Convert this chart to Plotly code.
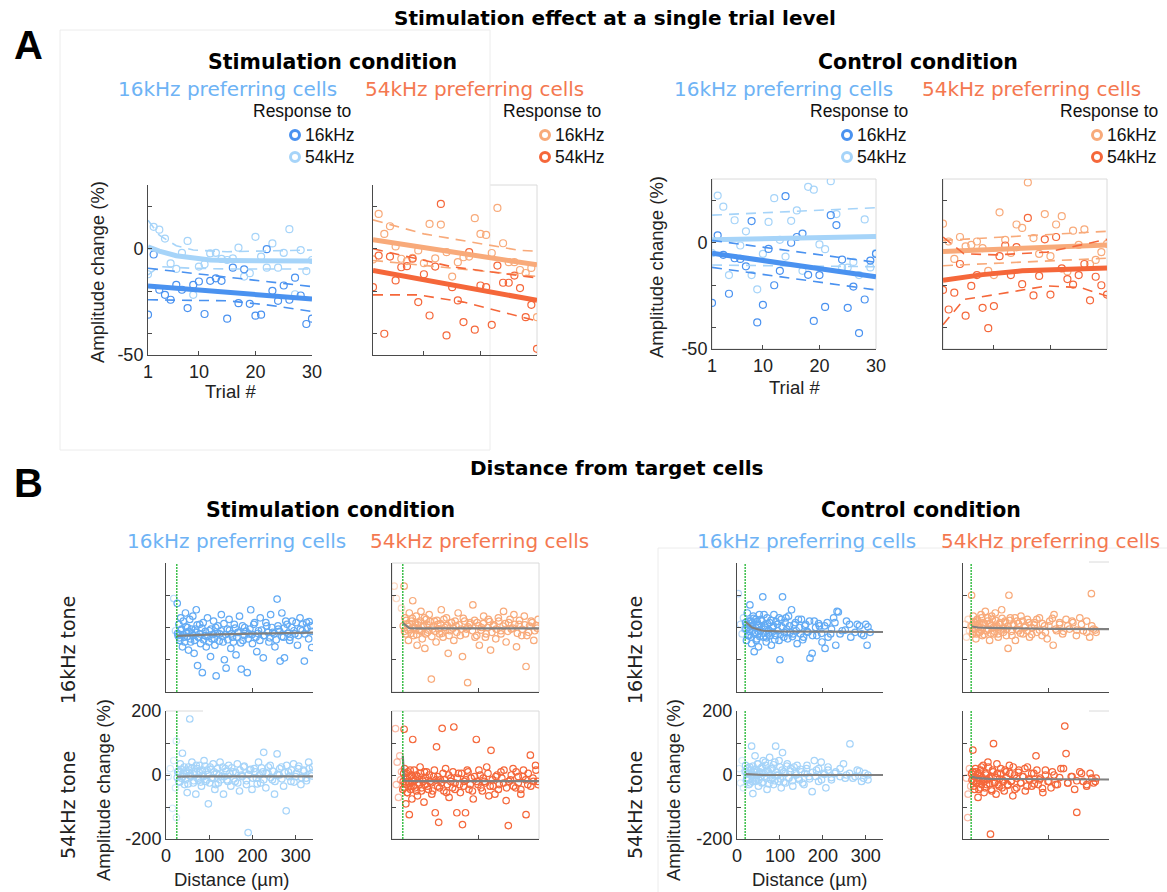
import plotly.graph_objects as go

W, H = 1167, 892
FONT_H = "Liberation Sans, Arial, sans-serif"
FONT_V = "DejaVu Sans, Verdana, sans-serif"

# ======================= Panel A data (amplitude change, %) =======================
trial = [1, 2, 3, 4, 5, 6, 7, 8, 9, 10, 11, 12, 13, 14, 15,
         16, 17, 18, 19, 20, 21, 22, 23, 24, 25, 26, 27, 28, 29, 30]

# Stimulation condition - 16kHz preferring cells
a_s16_r16 = [-31.0, -2.7, -19.3, -21.7, -24.0, -17.0, -19.3, -27.9, -17.0, -15.4,
             -30.7, -15.1, -13.9, -15.1, -32.9, -8.9, -25.6, -9.7, -25.9, -31.5,
             -31.0, -0.2, -19.8, -24.5, -17.3, -24.0, -13.6, -22.0, -35.4, -32.9]
a_s16_r54 = [-12.0, 10.3, 9.0, 4.8, -6.9, -9.5, -1.9, 3.7, -21.7, -8.4,
             -7.3, -2.2, -1.9, -4.8, -5.3, -4.5, 0.5, -13.1, -11.5, 5.6,
             -3.7, -8.9, 2.5, -8.9, -1.9, 9.2, -21.4, -0.6, -10.5, -5.3]
a_s16_r16_fit_t = [1, 30]
a_s16_r16_fit = [-17.5, -23.7]
a_s16_r16_hi_t = [1, 30]
a_s16_r16_hi = [-9.2, -17.8]
a_s16_r16_lo_t = [1, 15, 22, 30]
a_s16_r16_lo = [-24.0, -24.5, -26.4, -29.5]
a_s16_r54_fit_t = [1, 3, 6, 9, 12, 15, 21, 27, 30]
a_s16_r54_fit = [0.9, -1.1, -3.3, -4.5, -5.3, -5.5, -5.6, -5.8, -5.8]
a_s16_r54_hi_t = [1, 3, 6, 9, 15, 21, 30]
a_s16_r54_hi = [13.4, 6.4, 1.4, -0.6, -1.4, -1.1, -0.6]
a_s16_r54_lo_t = [1, 3, 9, 15, 30]
a_s16_r54_lo = [-12.3, -8.4, -9.2, -9.5, -9.5]

# Stimulation condition - 54kHz preferring cells
a_s54_r16 = [-5.0, 16.4, 7.0, 10.6, 1.1, -4.7, -5.8, -4.3, -0.8, -6.8,
             11.7, -4.5, 11.4, -1.6, -13.1, -6.3, -4.0, -3.7, 14.4, 7.0,
             6.5, -2.0, 19.2, 2.6, -6.3, -6.3, -10.0, -11.4, -9.0, -32.2]
a_s54_r54 = [-18.1, -3.2, -40.0, -3.7, -14.9, -8.7, -8.2, -4.7, -25.1, -12.0,
             -31.4, -8.4, 21.1, -40.8, -18.1, -24.3, -34.5, -1.6, -38.1, -17.3,
             -18.1, -35.8, -7.9, -16.0, -16.0, -12.6, -18.5, -32.2, -26.4, -47.1]
a_s54_r16_fit_t = [1, 30]
a_s54_r16_fit = [4.2, -7.6]
a_s54_r16_hi_t = [1, 10, 27, 30]
a_s54_r16_hi = [13.6, 7.0, -0.8, -1.1]
a_s54_r16_lo_t = [1, 30]
a_s54_r16_lo = [-5.5, -13.0]
a_s54_r54_fit_t = [1, 30]
a_s54_r54_fit = [-10.2, -24.3]
a_s54_r54_hi_t = [1, 15, 30]
a_s54_r54_hi = [0.0, -8.5, -13.7]
a_s54_r54_lo_t = [1, 9, 17, 27, 30]
a_s54_r54_lo = [-21.7, -21.7, -25.1, -32.2, -34.0]

# Control condition - 16kHz preferring cells
a_c16_r16 = [-28.3, 3.5, -5.7, -24.0, -7.3, -7.6, -11.1, 10.2, -37.5, -29.2,
             -2.9, -20.0, -13.2, 21.9, 0.0, 2.7, 4.3, -15.1, -36.8, -15.2,
             -30.2, 13.0, 8.3, -7.9, -30.6, -20.6, -42.5, -26.7, -8.4, -5.2]
a_c16_r54 = [-4.9, 22.2, 17.0, -15.2, 10.6, -1.3, 5.4, -15.2, -21.9, -5.2,
             9.8, 21.0, 1.4, -6.5, 10.3, 15.2, -13.2, 26.3, 25.0, -0.8,
             -3.0, 29.0, 13.5, -11.7, -11.7, -9.0, -15.2, 11.0, -11.6, -4.9]
a_c16_r16_fit_t = [1, 30]
a_c16_r16_fit = [-4.9, -16.0]
a_c16_r16_hi = [1.1, -9.2]
a_c16_r16_lo = [-11.6, -22.2]
a_c16_r54_fit_t = [1, 30]
a_c16_r54_fit = [1.4, 3.0]
a_c16_r54_hi = [13.0, 16.5]
a_c16_r54_lo = [-10.5, -11.3]

# Control condition - 54kHz preferring cells
a_c54_r16 = [9.0, 0.6, -7.6, 2.7, -1.7, -1.0, 0.6, -2.5, -13.2, -15.2,
             14.3, 1.4, -4.8, 8.6, 7.0, 28.4, 2.2, -5.2, 13.5, -6.3,
             8.6, 12.5, -13.5, 5.7, -1.0, 6.3, -10.0, -8.1, -4.4, -0.5]
a_c54_r54 = [-22.2, -31.4, -23.5, -10.0, -34.3, -20.3, -15.2, -30.6, -40.2, -29.8,
             -6.3, -1.3, -15.2, -2.1, -19.5, 11.7, -24.8, -15.6, 1.6, -24.4,
             2.7, -12.1, -17.1, -19.7, -15.2, -10.0, -27.1, -16.0, -20.0, -24.4]
a_c54_r16_fit_t = [1, 30]
a_c54_r16_fit = [-4.1, -1.0]
a_c54_r16_hi = [1.1, 5.4]
a_c54_r16_lo = [-10.8, -7.3]
a_c54_r54_fit_t = [1, 8, 15, 22, 30]
a_c54_r54_fit = [-17.6, -15.0, -13.2, -12.4, -11.9]
a_c54_r54_hi_t = [1, 4.7, 10.5, 19.4, 30]
a_c54_r54_hi = [2.7, -5.2, -5.7, -4.4, 1.6]
a_c54_r54_lo_t = [1, 4.7, 10.5, 19.4, 25.3, 30]
a_c54_r54_lo = [-38.6, -26.7, -24.3, -20.3, -21.1, -25.1]

# ======================= Panel B data (distance um, amplitude change %) =======================
b_s16_t16 = [(18, 90), (22, -10), (26, 75), (28, -25), (30, 10), (32, -40), (34, 30), (36, -5), (38, -60),
             (40, 20), (42, -30), (45, 45), (47, -15), (50, 0), (52, -70), (55, 25), (57, -45), (60, -20),
             (62, 35), (65, -80), (68, -5), (70, 55), (73, -118), (75, -30), (78, 10), (80, -50), (84, -140),
             (86, 15), (90, -25), (93, -60), (96, 30), (100, -10), (103, -90), (106, -35), (110, 20),
             (113, -55), (116, -150), (120, 5), (124, -20), (128, 40), (132, -45), (135, -100), (139, -126),
             (142, -5), (146, 25), (150, -65), (154, -30), (158, 10), (162, -85), (166, -15), (170, 35),
             (174, -129), (178, -40), (182, 0), (188, -140), (192, -20), (196, 55), (200, -50), (205, 15),
             (210, -75), (214, -10), (218, 30), (225, -94), (228, -25), (233, 5), (238, -45), (242, 40),
             (247, -15), (252, -60), (257, 88), (260, -5), (264, -104), (268, 45), (272, -30), (274, -94),
             (280, 10), (286, -40), (292, 20), (298, -20), (304, -55), (310, 30), (315, -10), (320, -104),
             (325, 15), (330, -35), (335, 5), (337, -62)]
b_s16_t16_core = [(27, -18), (31, -32), (35, -8), (39, -22), (43, -45), (46, 2), (49, -28), (53, -12), (56, -35),
                  (59, -5), (63, -25), (66, -40), (69, -15), (72, 8), (76, -30), (79, -20), (83, -2), (87, -38),
                  (91, -12), (95, -28), (99, -45), (104, -5), (108, -22), (112, -35), (115, 0), (119, -18),
                  (123, -42), (127, -10), (131, -28), (134, 12), (138, -22), (143, -38), (147, -8), (151, -20),
                  (156, -45), (160, -2), (164, -30), (168, -15), (173, -48), (177, 5), (181, -25), (185, -12),
                  (190, -35), (194, -5), (199, -22), (203, 10), (208, -30), (212, -18), (217, -40), (221, -8),
                  (226, -25), (231, 15), (236, -15), (240, -32), (245, 0), (250, -20), (255, -38), (259, 5),
                  (263, -12), (268, -28), (273, -2), (277, 20), (282, -18), (287, -30), (291, 0), (296, -10),
                  (301, 15), (306, -25), (311, -5), (316, 10), (321, -20), (326, -2), (331, 18), (336, -12)]
b_s54_t16 = [(5, 128), (28, 128), (10, 90), (22, 60), (30, 30), (32, -20), (35, 10), (38, -40), (40, 45),
             (42, -5), (45, 20), (48, 83), (50, -25), (53, 0), (56, 35), (58, -55), (61, 15), (64, -10),
             (67, 50), (70, -35), (73, 5), (76, -65), (79, 25), (82, -15), (86, 40), (91, -160), (94, -5),
             (98, 20), (102, -45), (106, 10), (110, -20), (114, 55), (118, -30), (122, 0), (126, 30),
             (130, -80), (134, -10), (138, 15), (143, -40), (148, 5), (153, 45), (158, -25), (163, -90),
             (168, 20), (172, -5), (175, -171), (180, 10), (187, 70), (192, -30), (197, 15), (202, -55),
             (207, 0), (212, 35), (218, -20), (223, 25), (228, -70), (234, 5), (240, -35), (246, 30),
             (252, -10), (258, 50), (264, -45), (270, 15), (276, -5), (282, 40), (288, -60), (294, 10),
             (300, -25), (306, 35), (310, -121), (316, -15), (322, 20), (328, -40), (334, 5), (338, 25)]
b_s54_t16_core = [(26, 5), (29, -12), (33, 22), (37, -8), (41, 12), (44, -18), (47, 28), (51, -3), (54, 15),
                  (57, -22), (60, 8), (63, -6), (66, 20), (69, -12), (72, 2), (75, 30), (78, -20), (81, 10),
                  (84, -8), (88, 18), (92, -28), (96, 4), (100, -12), (104, 22), (108, -4), (112, 12),
                  (116, -18), (120, 25), (124, -8), (128, 6), (132, -25), (137, 15), (141, -2), (146, 20),
                  (150, -15), (155, 8), (160, -5), (165, 28), (170, -20), (176, 2), (181, 15), (186, -10),
                  (191, 22), (196, -25), (201, 5), (206, -8), (211, 12), (216, -30), (221, 0), (226, 18),
                  (231, -15), (236, 8), (241, -5), (247, 20), (252, -20), (257, 4), (262, 12), (268, -12),
                  (273, 25), (279, -2), (284, 10), (290, -18), (295, 22), (301, -6), (307, 8), (312, -25),
                  (318, 4), (324, 15), (330, -10), (336, -2)]
b_s16_t54 = [(5, -5), (10, 20), (15, -104), (18, 45), (22, -40), (24, 106), (24, -133), (27, 10), (30, -20),
             (33, 35), (36, -10), (38, 68), (40, 5), (43, -30), (46, 15), (49, -55), (52, 25), (55, 175),
             (57, -5), (60, 40), (63, -25), (66, 10), (69, -60), (72, 20), (75, -15), (78, 30), (82, -35),
             (85, 0), (88, 45), (92, -20), (95, 15), (98, -90), (102, 25), (105, -10), (109, 35), (113, -45),
             (117, 5), (121, -25), (125, 40), (129, -5), (133, -60), (137, 20), (141, -15), (145, 30),
             (150, -35), (155, 10), (160, -20), (165, 35), (170, -50), (175, 0), (180, 25), (186, -30),
             (190, -180), (194, 15), (199, -45), (204, 20), (209, -10), (214, 40), (219, -25), (224, 10),
             (226, 71), (231, -40), (236, 5), (241, 30), (246, -15), (251, -60), (257, 66), (262, 0),
             (267, 25), (272, -35), (278, -112), (283, 10), (289, -20), (295, 35), (300, -5), (306, 20),
             (312, -30), (318, 15), (324, -10), (330, 40), (336, 5), (339, 25)]
b_s16_t54_core = [(26, -8), (29, 12), (32, -22), (35, 18), (39, -5), (42, 25), (45, -15), (48, 5), (51, -28),
                  (54, 15), (57, -2), (60, 22), (64, -18), (67, 0), (70, 30), (74, -10), (77, 8), (80, -22),
                  (84, 15), (87, -5), (90, 28), (94, -15), (97, 2), (101, -25), (104, 18), (108, -8), (111, 10),
                  (115, -30), (119, 20), (123, 0), (127, -15), (131, 25), (135, -5), (139, 12), (143, -20),
                  (148, 5), (152, 22), (157, -12), (161, 8), (166, -25), (171, 15), (176, -5), (181, 28),
                  (186, -18), (191, 2), (196, 18), (201, -10), (206, 10), (211, -28), (216, 0), (221, 22),
                  (226, -15), (232, 5), (237, 25), (242, -8), (247, 12), (252, -20), (258, 2), (263, 20),
                  (268, -12), (274, 8), (279, 30), (285, -5), (290, 15), (296, -22), (301, 5), (307, 28),
                  (313, -8), (319, 12), (325, -18), (331, 20), (337, -3)]
b_s54_t54 = [(8, 145), (10, -30), (12, 40), (15, -70), (18, 60), (20, -15), (22, 10), (25, -45), (28, 143),
             (30, -25), (32, -90), (34, 5), (36, -55), (38, -20), (40, -124), (42, 15), (44, -35), (46, -75),
             (48, 111), (50, -10), (53, -40), (56, 0), (59, -65), (62, -25), (65, 25), (68, -50), (71, -15),
             (74, -85), (77, -30), (80, 10), (84, -45), (88, -20), (92, -60), (96, -5), (100, -118), (103, 88),
             (106, -35), (108, -148), (112, -15), (116, 146), (120, -50), (124, 20), (128, -30), (132, -70),
             (136, -10), (140, -40), (143, 150), (146, -25), (150, -118), (154, 5), (158, -55), (163, -155),
             (167, -20), (170, -118), (174, 15), (178, -45), (183, -10), (188, -75), (195, 111), (199, -30),
             (204, 0), (209, -50), (214, -20), (219, 25), (224, -65), (229, 77), (234, -35), (240, -5),
             (246, -45), (252, 10), (258, -25), (264, -80), (269, -158), (274, -15), (280, 20), (286, -40),
             (292, -5), (298, -60), (304, 15), (310, -124), (314, -30), (320, 62), (326, -10), (332, 30),
             (337, -20)]
b_s54_t54_core = [(26, -20), (27, 5), (28, -40), (29, 20), (31, -10), (33, -30), (35, -55), (37, 10), (39, -25),
                  (41, -5), (43, -45), (45, 0), (47, -20), (49, -35), (51, 15), (54, -15), (57, -50), (60, -5),
                  (63, -30), (66, 5), (69, -40), (72, -20), (75, 10), (78, -10), (82, -35), (86, 0), (90, -25),
                  (94, -50), (98, 15), (102, -15), (106, -5), (110, -40), (114, -25), (118, 5), (122, -15),
                  (126, -55), (131, 0), (136, -20), (141, 10), (146, -45), (151, -10), (156, -30), (161, 5),
                  (166, -35), (171, -15), (176, 10), (181, -30), (186, -50), (191, -5), (196, -20), (201, 15),
                  (206, -40), (211, -10), (216, -25), (222, 5), (227, -35), (232, -15), (238, -60), (243, 0),
                  (248, -30), (254, -10), (259, 15), (265, -40), (270, -20), (276, 0), (281, -35), (287, 10),
                  (292, -25), (298, -45), (303, -5), (309, -15), (315, 5), (321, -35), (327, -20), (333, 15),
                  (338, -30)]
b_c16_t16 = [(3, 105), (8, 10), (12, -20), (15, 30), (18, -5), (20, 15), (22, -40), (24, 45), (26, 0),
             (28, -25), (30, 70), (32, 20), (34, -50), (36, 5), (38, 35), (40, -75), (42, -15), (44, 25),
             (46, -35), (48, 10), (50, -60), (52, 40), (55, -10), (58, 20), (60, 95), (62, -30), (65, 5),
             (68, -45), (70, 30), (73, -20), (76, 15), (80, -55), (83, 0), (86, 40), (90, -25), (94, 10),
             (98, -40), (100, -100), (103, 25), (106, 95), (110, -15), (114, 30), (118, -35), (122, 5),
             (127, 55), (131, -20), (136, 15), (140, -50), (145, 0), (150, 25), (155, -30), (160, 10),
             (165, -15), (170, -95), (175, -80), (180, 20), (186, -25), (192, 5), (198, -45), (205, -65),
             (210, 15), (218, -20), (225, 30), (230, -55), (233, 50), (236, 48), (245, -10), (255, 20),
             (265, -30), (280, 10), (290, -20), (300, 10), (303, -55), (310, -15)]
b_c16_t16_core = [(21, -5), (23, 10), (25, -25), (27, 20), (29, -12), (31, 5), (33, -30), (35, 15), (37, -8),
                  (39, 28), (41, -20), (43, 0), (45, -40), (47, 18), (49, -12), (51, 5), (53, -28), (56, 25),
                  (58, -5), (61, -18), (63, 40), (66, 0), (69, -32), (71, 12), (74, -8), (77, -25), (79, 22),
                  (82, -15), (85, 5), (88, -38), (91, 18), (95, -10), (98, 30), (101, -22), (105, 2), (109, -30),
                  (112, 15), (116, -5), (120, 35), (124, -15), (129, -28), (133, 8), (138, -10), (143, 25),
                  (148, -20), (153, -38), (158, 5), (163, -12), (169, 20), (176, -25), (183, 0), (190, 12),
                  (197, -18), (204, 5), (212, -30), (220, -5), (228, 15), (240, -20), (252, -8), (262, 10),
                  (275, -15), (285, 5), (295, -25), (305, 2)]
b_c54_t16 = [(5, 10), (8, -30), (12, 25), (15, -10), (18, 5), (20, 100), (22, -20), (24, 35), (26, -5),
             (28, 15), (30, -35), (33, 20), (36, 0), (39, -15), (42, 40), (45, -25), (48, 10), (52, 50),
             (55, -10), (58, 30), (62, -40), (65, 5), (68, 25), (72, -20), (75, 45), (78, 0), (82, -30),
             (86, 15), (90, 55), (94, -15), (98, 20), (102, -5), (105, -65), (107, 100), (110, 30), (114, -25),
             (118, 10), (122, -40), (126, 20), (130, -10), (135, 35), (140, -20), (145, 5), (150, 25),
             (155, -30), (160, 0), (166, 15), (172, -15), (178, 30), (184, -25), (190, 5), (196, -35),
             (202, 20), (210, -55), (212, 40), (218, -10), (225, 10), (232, -20), (240, 25), (248, -5),
             (256, 15), (264, -25), (272, 30), (280, -10), (288, 20), (295, -30), (299, 105), (304, -5),
             (310, -15)]
b_c54_t16_core = [(21, 5), (23, -12), (25, 18), (27, -5), (29, 10), (31, -20), (33, 25), (35, 0), (37, -15),
                  (39, 12), (41, -8), (43, 30), (45, -2), (47, 15), (49, -22), (51, 8), (54, -10), (57, 20),
                  (59, -5), (62, 12), (65, -18), (67, 35), (70, 0), (73, -12), (76, 22), (79, 5), (82, -20),
                  (85, 10), (88, -8), (91, 28), (94, -2), (98, 15), (101, -25), (105, 5), (109, 22), (113, -12),
                  (117, 8), (121, 30), (125, -5), (129, 12), (134, -18), (139, 20), (144, 0), (149, -10),
                  (154, 15), (160, -22), (166, 8), (172, 25), (178, -8), (185, 12), (192, -15), (200, 5),
                  (208, 28), (216, -5), (225, 15), (234, -12), (244, 5), (254, 20), (265, -8), (276, 10),
                  (288, -15), (300, 5), (308, -8)]
b_c16_t54 = [(5, 20), (8, -25), (12, 45), (15, -40), (18, 10), (20, 30), (22, -15), (25, 5), (28, -30),
             (30, 25), (32, 0), (34, 90), (36, -20), (37, -58), (40, 15), (42, 60), (45, -10), (48, 35),
             (50, -35), (53, 5), (56, 20), (58, -25), (61, 45), (64, -5), (67, 30), (70, -45), (73, 10),
             (76, 55), (79, -15), (82, 20), (85, -30), (88, 40), (90, 90), (93, 0), (96, -20), (100, 25),
             (103, -40), (106, 70), (109, 10), (113, -25), (117, 35), (121, -10), (125, 20), (130, -35),
             (135, 5), (140, 30), (145, -15), (150, 10), (156, -30), (162, 20), (168, -5), (175, -52),
             (180, 45), (185, 15), (190, -20), (196, 40), (202, 5), (207, -40), (212, 25), (220, -15),
             (230, 10), (240, -5), (248, 35), (255, 0), (263, 97), (270, -10), (280, 15), (290, -20),
             (298, 5), (305, -15)]
b_c16_t54_core = [(21, 10), (23, -8), (25, 22), (27, -15), (29, 5), (31, -25), (33, 15), (35, -2), (37, 28),
                  (39, -12), (41, 8), (43, -20), (45, 18), (47, 0), (49, 35), (51, -15), (53, 10), (56, -5),
                  (58, 25), (61, -22), (63, 5), (66, 40), (69, -10), (71, 15), (74, -28), (77, 0), (79, 20),
                  (82, -8), (85, 32), (88, -18), (91, 8), (95, -2), (98, 45), (101, -12), (105, 15), (109, -22),
                  (112, 5), (116, 28), (120, -8), (124, 12), (129, -18), (133, 25), (138, 0), (143, -10),
                  (148, 18), (153, -25), (158, 5), (163, 30), (169, -12), (176, 8), (183, -5), (190, 20),
                  (197, -15), (204, 2), (212, 15), (220, -8), (228, 5), (240, 20), (252, -10), (262, 5),
                  (275, -5), (285, 12), (295, -10), (305, 0)]
b_c54_t54 = [(8, -10), (11, -133), (12, -60), (15, 20), (18, -35), (20, 5), (23, 78), (25, -20), (27, -45),
             (30, 10), (32, -25), (35, -70), (37, 0), (40, -40), (43, 25), (46, -15), (49, -55), (52, 5),
             (55, -30), (58, 40), (61, -10), (64, -185), (66, -45), (69, 15), (71, 98), (74, -25), (77, -60),
             (80, 5), (84, -35), (88, 20), (92, -15), (96, -50), (100, 10), (104, -30), (108, 30), (112, -20),
             (116, -65), (120, 0), (125, -40), (130, 15), (135, -25), (140, -5), (145, -50), (150, 25),
             (155, -15), (160, -35), (165, 5), (170, 60), (175, -30), (180, -10), (186, -55), (192, 15),
             (198, -20), (205, -40), (212, 0), (220, -30), (228, 20), (237, 153), (240, 67), (244, -25),
             (252, -5), (260, -45), (265, -117), (272, 10), (280, -20), (288, -35), (296, 5), (304, -25),
             (310, -10)]
b_c54_t54_core = [(21, -15), (23, 10), (25, -35), (27, -5), (29, 20), (31, -25), (33, -10), (35, 5), (37, -45),
                  (39, -18), (41, 15), (43, -30), (45, -8), (47, 30), (49, -20), (51, -40), (54, 0), (57, -15),
                  (59, 25), (62, -28), (65, -5), (67, -50), (70, 10), (73, -22), (76, -8), (79, 35), (82, -30),
                  (85, -12), (88, 5), (91, -40), (94, -20), (98, 15), (101, -8), (105, -32), (109, 5),
                  (113, -18), (117, 25), (121, -45), (125, -10), (129, 8), (134, -25), (139, -5), (144, 20),
                  (149, -35), (154, -12), (160, 5), (166, -28), (172, 15), (178, -15), (185, -42), (192, 0),
                  (200, -20), (208, 10), (216, -30), (225, -8), (234, 20), (244, -25), (254, -5), (265, -18),
                  (276, 5), (288, -30), (300, -10), (308, -20)]

# fitted curves (distance um -> %)
b_stim_fit_x = [25, 40, 60, 100, 200, 340]
b_s16_t16_fit = [-26, -25, -24, -22, -19, -16]
b_s54_t16_fit = [14, -2, -3, -3, -3, -3]
b_s16_t54_fit = [-5, -4, -4, -4, -4, -4]
b_s54_t54_fit_x = [25, 28, 60, 100, 200, 340]
b_s54_t54_fit = [60, -18, -19, -19, -19, -19]
b_ctrl_fit_x = [20, 35, 60, 100, 200, 340]
b_c16_t16_fit = [18, 0, -10, -12, -13, -14]
b_c54_t16_fit = [3, 0, -1, -2, -4, -5]
b_c16_t54_fit = [3, 1, 0, 0, 0, 0]
b_c54_t54_fit = [-5, -10, -12, -12, -12, -14]
b_target_stim = 25
b_target_ctrl = 19

# ======================= styling =======================
C_BLUE = "#4a92f0"
C_LBLUE = "#a6d4f9"
C_BBLUE = "#63abf4"
C_LORANGE = "#f8aa7a"
C_ORANGE = "#f5673a"
T_BLUE = "#6eb3f5"
T_ORANGE = "#f47850"
AX = "#4a4a4a"
BOXC = "#dadada"
GRAY = "#808080"
GREEN = "#1db52e"
DASH = "10px,7px"

fig = go.Figure()
layout_axes = {}
shapes = []


def px_x(x):
    return x / W


def px_y(y):
    return 1 - y / H


def add_axis(n, box, xr, yr, xtv, xtt, ytv, ytt):
    l, r, t, b = box
    xs = "xaxis" if n == 1 else "xaxis%d" % n
    ys = "yaxis" if n == 1 else "yaxis%d" % n
    common = dict(showline=True, linecolor=AX, linewidth=1, ticks="inside", ticklen=4,
                  tickcolor=AX, showgrid=False, zeroline=False, automargin=False,
                  tickfont=dict(family=FONT_H, size=18, color="#222"), fixedrange=True)
    layout_axes[xs] = dict(domain=[px_x(l), px_x(r)], range=xr, anchor="y" if n == 1 else "y%d" % n,
                           tickmode="array", tickvals=xtv, ticktext=xtt, **common)
    layout_axes[ys] = dict(domain=[px_y(b), px_y(t)], range=yr, anchor="x" if n == 1 else "x%d" % n,
                           tickmode="array", tickvals=ytv, ticktext=ytt, **common)


def gray_box(l, r, t, b):
    shapes.append(dict(type="rect", xref="paper", yref="paper", x0=px_x(l), x1=px_x(r),
                       y0=px_y(b), y1=px_y(t), line=dict(color=BOXC, width=1), layer="below"))


def seg(x0, y0, x1, y1, color="#ececec"):
    shapes.append(dict(type="line", xref="paper", yref="paper", x0=px_x(x0), x1=px_x(x1),
                       y0=px_y(y0), y1=px_y(y1), line=dict(color=color, width=1), layer="below"))


def ax_ref(n):
    return ("x" if n == 1 else "x%d" % n), ("y" if n == 1 else "y%d" % n)


def pts(n, x, y, color, size=7, opac=None):
    xa, ya = ax_ref(n)
    mk = dict(symbol="circle-open", size=size, color=color, line=dict(width=1.2, color=color))
    if opac is not None:
        mk["opacity"] = opac
    fig.add_trace(go.Scatter(x=x, y=y, mode="markers", marker=mk, xaxis=xa, yaxis=ya,
                             showlegend=False, hoverinfo="skip"))


def line(n, x, y, color, width, dash=None):
    xa, ya = ax_ref(n)
    ln = dict(color=color, width=width)
    if dash:
        ln["dash"] = dash
    fig.add_trace(go.Scatter(x=x, y=y, mode="lines", line=ln, xaxis=xa, yaxis=ya,
                             showlegend=False, hoverinfo="skip"))


# ---------------- Panel A axes ----------------
A_YT = [-50, -40, -20, 0, 20]
A_YL = ["-50", "", "", "0", ""]
A_BLANK = ["", "", "", "", ""]
add_axis(1, (148, 312, 185, 355), [1, 30], [-50, 30], [1, 10, 20, 30], ["1", "10", "20", "30"], A_YT, A_YL)
add_axis(2, (373, 537, 185, 355), [1, 30], [-50, 30], [10, 20], ["", ""], A_YT, A_BLANK)
add_axis(3, (712, 876, 179, 349), [1, 30], [-50, 30], [1, 10, 20, 30], ["1", "10", "20", "30"], A_YT, A_YL)
add_axis(4, (943, 1107, 179, 349), [1, 30], [-50, 30], [10, 20], ["", ""], A_YT, A_BLANK)
gray_box(712, 876, 179, 349)
gray_box(943, 1107, 179, 349)
seg(490, 185, 537, 185, BOXC)
seg(537, 185, 537, 355, BOXC)

# stimulation 16k-pref
pts(1, trial, a_s16_r54, C_LBLUE)
pts(1, trial, a_s16_r16, C_BLUE)
line(1, a_s16_r54_fit_t, a_s16_r54_fit, C_LBLUE, 5)
line(1, a_s16_r54_hi_t, a_s16_r54_hi, C_LBLUE, 1.6, DASH)
line(1, a_s16_r54_lo_t, a_s16_r54_lo, C_LBLUE, 1.6, DASH)
line(1, a_s16_r16_fit_t, a_s16_r16_fit, C_BLUE, 5)
line(1, a_s16_r16_hi_t, a_s16_r16_hi, C_BLUE, 1.6, DASH)
line(1, a_s16_r16_lo_t, a_s16_r16_lo, C_BLUE, 1.6, DASH)
# stimulation 54k-pref
pts(2, trial, a_s54_r16, C_LORANGE)
pts(2, trial, a_s54_r54, C_ORANGE)
line(2, a_s54_r16_fit_t, a_s54_r16_fit, C_LORANGE, 5)
line(2, a_s54_r16_hi_t, a_s54_r16_hi, C_LORANGE, 1.6, DASH)
line(2, a_s54_r16_lo_t, a_s54_r16_lo, C_LORANGE, 1.6, DASH)
line(2, a_s54_r54_fit_t, a_s54_r54_fit, C_ORANGE, 5)
line(2, a_s54_r54_hi_t, a_s54_r54_hi, C_ORANGE, 1.6, DASH)
line(2, a_s54_r54_lo_t, a_s54_r54_lo, C_ORANGE, 1.6, DASH)
# control 16k-pref
pts(3, trial, a_c16_r54, C_LBLUE)
pts(3, trial, a_c16_r16, C_BLUE)
line(3, a_c16_r54_fit_t, a_c16_r54_fit, C_LBLUE, 5)
line(3, a_c16_r54_fit_t, a_c16_r54_hi, C_LBLUE, 1.6, DASH)
line(3, a_c16_r54_fit_t, a_c16_r54_lo, C_LBLUE, 1.6, DASH)
line(3, a_c16_r16_fit_t, a_c16_r16_fit, C_BLUE, 5)
line(3, a_c16_r16_fit_t, a_c16_r16_hi, C_BLUE, 1.6, DASH)
line(3, a_c16_r16_fit_t, a_c16_r16_lo, C_BLUE, 1.6, DASH)
# control 54k-pref
pts(4, trial, a_c54_r16, C_LORANGE)
pts(4, trial, a_c54_r54, C_ORANGE)
line(4, a_c54_r16_fit_t, a_c54_r16_fit, C_LORANGE, 5)
line(4, a_c54_r16_fit_t, a_c54_r16_hi, C_LORANGE, 1.6, DASH)
line(4, a_c54_r16_fit_t, a_c54_r16_lo, C_LORANGE, 1.6, DASH)
line(4, a_c54_r54_fit_t, a_c54_r54_fit, C_ORANGE, 5)
line(4, a_c54_r54_hi_t, a_c54_r54_hi, C_ORANGE, 1.6, DASH)
line(4, a_c54_r54_lo_t, a_c54_r54_lo, C_ORANGE, 1.6, DASH)

# ---------------- Panel B axes ----------------
B_YT = [-200, -100, 0, 100, 200]
B_YL = ["-200", "", "0", "", "200"]
B_YB = ["", "", "", "", ""]
B_XT = [0, 100, 200, 300]
B_XL = ["0", "100", "200", "300"]
b_panels = [
    (5, (166, 313, 563, 692), b_s16_t16 + b_s16_t16_core, C_BBLUE, b_stim_fit_x, b_s16_t16_fit, b_target_stim, False),
    (6, (392, 539, 563, 692), b_s54_t16 + b_s54_t16_core, C_LORANGE, b_stim_fit_x, b_s54_t16_fit, b_target_stim, False),
    (7, (166, 313, 711, 839), b_s16_t54 + b_s16_t54_core, C_LBLUE, b_stim_fit_x, b_s16_t54_fit, b_target_stim, True),
    (8, (392, 539, 711, 839), b_s54_t54 + b_s54_t54_core, C_ORANGE, b_s54_t54_fit_x, b_s54_t54_fit, b_target_stim, False),
    (9, (737, 883, 563, 692), b_c16_t16 + b_c16_t16_core, C_BBLUE, b_ctrl_fit_x, b_c16_t16_fit, b_target_ctrl, False),
    (10, (963, 1109, 563, 692), b_c54_t16 + b_c54_t16_core, C_LORANGE, b_ctrl_fit_x, b_c54_t16_fit, b_target_ctrl, False),
    (11, (737, 883, 711, 839), b_c16_t54 + b_c16_t54_core, C_LBLUE, b_ctrl_fit_x, b_c16_t54_fit, b_target_ctrl, True),
    (12, (963, 1109, 711, 839), b_c54_t54 + b_c54_t54_core, C_ORANGE, b_ctrl_fit_x, b_c54_t54_fit, b_target_ctrl, False),
]
for n, box, data, col, fx, fy, tgt, lab in b_panels:
    if lab:
        add_axis(n, box, [0, 340], [-200, 200], B_XT, B_XL, B_YT, B_YL)
    else:
        add_axis(n, box, [0, 340], [-200, 200], [200], [""], B_YT, B_YB)
    xs = [p[0] for p in data]
    ys = [p[1] for p in data]
    op = [0.45 if x < tgt else 1.0 for x in xs]
    pts(n, xs, ys, col, size=6.5, opac=op)
    line(n, fx, fy, GRAY, 2.2)
    line(n, [tgt, tgt], [-200, 200], GREEN, 1.3, "2px,1px")

gray_box(392, 539, 563, 692)
gray_box(392, 539, 711, 839)
seg(166, 711, 203, 711, BOXC)
seg(1089, 562, 1109, 562, BOXC)
seg(1089, 711, 1109, 711, BOXC)

# faint panel frames
seg(60, 30, 490, 30)
seg(60, 30, 60, 450)
seg(490, 30, 490, 450)
seg(60, 450, 490, 450)
seg(658, 548, 1167, 548)
seg(658, 548, 658, 892)

# legend circles (panel A)
for cx, cy, col in [(295, 135, C_BLUE), (295, 157, C_LBLUE), (545, 135, C_LORANGE), (545, 157, C_ORANGE),
                    (847, 135, C_BLUE), (847, 157, C_LBLUE), (1097, 135, C_LORANGE), (1097, 157, C_ORANGE)]:
    shapes.append(dict(type="circle", xref="paper", yref="paper", x0=px_x(cx - 4.5), x1=px_x(cx + 4.5),
                       y0=px_y(cy + 4.5), y1=px_y(cy - 4.5), line=dict(color=col, width=3)))

# ---------------- text ----------------
ann = []


def txt(x, y, s, size, color="#000000", bold=False, family=FONT_V, xanchor="center", angle=0):
    ann.append(dict(x=px_x(x), y=px_y(y), xref="paper", yref="paper", showarrow=False,
                    text=("<b>%s</b>" % s) if bold else s, xanchor=xanchor, yanchor="middle",
                    textangle=angle, font=dict(family=family, size=size, color=color)))


txt(615, 18, "Stimulation effect at a single trial level", 20, bold=True)
txt(28, 45, "A", 40, bold=True, family=FONT_H)
txt(332, 62, "Stimulation condition", 20.5, bold=True)
txt(918, 62, "Control condition", 20.5, bold=True)
for cx, label, col in [(228, "16kHz preferring cells", T_BLUE), (474, "54kHz preferring cells", T_ORANGE),
                       (783, "16kHz preferring cells", T_BLUE), (1031, "54kHz preferring cells", T_ORANGE)]:
    txt(cx, 89, label, 20, color=col)
for rx, cx in [(353, 303), (603, 553), (910, 855), (1160, 1105)]:
    txt(rx, 111, "Response to", 17.5, color="#111", family=FONT_H, xanchor="right")
    txt(cx, 135, "16kHz", 17.5, color="#111", family=FONT_H, xanchor="left")
    txt(cx, 157, "54kHz", 17.5, color="#111", family=FONT_H, xanchor="left")
txt(97, 272, "Amplitude change (%)", 18.5, color="#222", family=FONT_H, angle=-90)
txt(657, 267, "Amplitude change (%)", 18.5, color="#222", family=FONT_H, angle=-90)
txt(230, 392, "Trial #", 18.5, color="#222", family=FONT_H)
txt(794, 388, "Trial #", 18.5, color="#222", family=FONT_H)

txt(617, 468, "Distance from target cells", 20, bold=True)
txt(28, 483, "B", 40, bold=True, family=FONT_H)
txt(330, 510, "Stimulation condition", 20.5, bold=True)
txt(921, 510, "Control condition", 20.5, bold=True)
for cx, label, col in [(236, "16kHz preferring cells", T_BLUE), (479, "54kHz preferring cells", T_ORANGE),
                       (806, "16kHz preferring cells", T_BLUE), (1050, "54kHz preferring cells", T_ORANGE)]:
    txt(cx, 541, label, 20, color=col)
txt(68, 650, "16kHz tone", 19, color="#222", angle=-90)
txt(68, 805, "54kHz tone", 19, color="#222", angle=-90)
txt(635, 650, "16kHz tone", 19, color="#222", angle=-90)
txt(635, 805, "54kHz tone", 19, color="#222", angle=-90)
txt(103, 790, "Amplitude change (%)", 18.5, color="#222", family=FONT_H, angle=-90)
txt(673, 790, "Amplitude change (%)", 18.5, color="#222", family=FONT_H, angle=-90)
txt(232, 879, "Distance (µm)", 18.5, color="#222", family=FONT_H)
txt(810, 879, "Distance (µm)", 18.5, color="#222", family=FONT_H)

fig.update_layout(width=W, height=H, margin=dict(l=0, r=0, t=0, b=0, autoexpand=False),
                  paper_bgcolor="white", plot_bgcolor="rgba(0,0,0,0)",
                  showlegend=False, shapes=shapes, annotations=ann, **layout_axes)
fig.write_html("out.html", config={"displayModeBar": False, "staticPlot": True},
               post_script="document.body.style.margin='0px';document.body.style.overflow='hidden';")
